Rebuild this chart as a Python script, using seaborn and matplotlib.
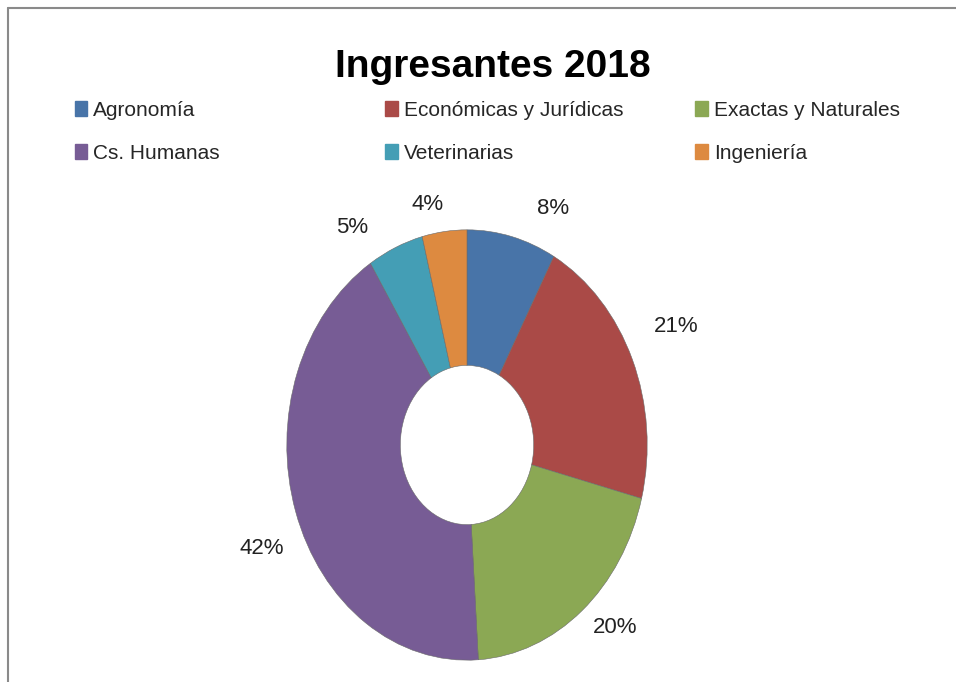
import seaborn as sns
import matplotlib.pyplot as plt
from matplotlib.lines import Line2D
from matplotlib.patches import Patch

sns.set_theme(style="white")
plt.rcParams['font.family'] = ['Liberation Sans', 'DejaVu Sans']

# data (clockwise from the top)
carreras = ['Agronomía', 'Económicas y Jurídicas', 'Exactas y Naturales',
            'Cs. Humanas', 'Veterinarias', 'Ingeniería']
porcentajes = [8, 21, 20, 42, 5, 4]
colores = ['#4874A8', '#AA4A47', '#8BA854', '#775C95', '#449EB5', '#DD8A40']

# where Excel put the percentage labels (pie data units)
label_pos = [(0.48, 1.10), (1.16, 0.55), (0.82, -0.85),
             (-1.14, -0.48), (-0.64, 1.01), (-0.22, 1.12)]

fig = plt.figure(figsize=(9.56, 6.82), dpi=100)

# pie axes, stretched a bit taller than wide like the reference
ax = fig.add_axes([0.300, 0.032, 0.377, 0.631])
wedges, texts, autotexts = ax.pie(
    porcentajes, colors=colores, startangle=90, counterclock=False,
    autopct='%d%%', pctdistance=1.19,
    wedgeprops=dict(width=0.63, edgecolor='#6a6a6a', linewidth=0.4),
    textprops=dict(fontsize=16, color='#222222'))
ax.set_aspect('auto')
ax.set_xlim(-1, 1)
ax.set_ylim(-1, 1)
for t, p in zip(autotexts, label_pos):
    t.set_position(p)

fig.text(0.515, 0.902, 'Ingresantes 2018', ha='center', va='center',
         fontsize=28, fontweight='bold', color='black')

# legend: three columns, two rows, filled row-wise
col_x = [0.078, 0.403, 0.727]
for i, x in enumerate(col_x):
    idx = [i, i + 3]
    handles = [Patch(facecolor=colores[j], edgecolor=colores[j]) for j in idx]
    fig.legend(handles, [carreras[j] for j in idx], loc='upper left',
               bbox_to_anchor=(x, 0.852), frameon=False, fontsize=15,
               handlelength=0.6, handleheight=0.75, handletextpad=0.3,
               labelspacing=1.15, borderaxespad=0, borderpad=0)

# chart frame (top and left edges visible)
fig.add_artist(Line2D([0.0085, 0.0085], [0.0, 0.988], color='#8a8a8a', lw=1.5,
                      transform=fig.transFigure))
fig.add_artist(Line2D([0.0085, 1.0], [0.988, 0.988], color='#8a8a8a', lw=1.5,
                      transform=fig.transFigure))

fig.savefig('out.png', dpi=100)
